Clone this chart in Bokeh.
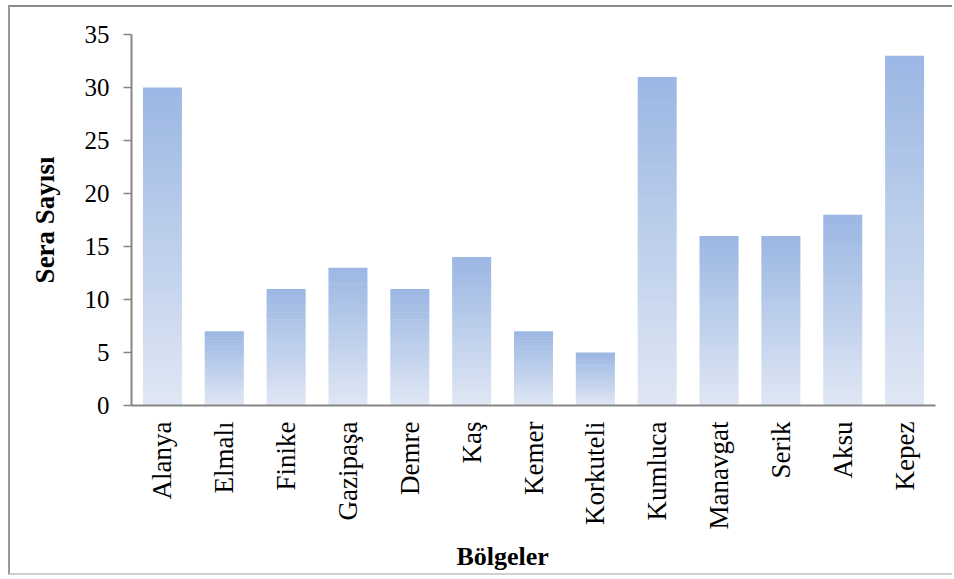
from bokeh.plotting import figure
from bokeh.models import FixedTicker, Range1d, FactorRange, Title
from bokeh.embed import file_html
from bokeh.resources import INLINE
import math

# ---- data ----
regions = ["Alanya", "Elmalı", "Finike", "Gazipaşa", "Demre", "Kaş", "Kemer",
           "Korkuteli", "Kumluca", "Manavgat", "Serik", "Aksu", "Kepez"]
greenhouses = [30, 7, 11, 13, 11, 14, 7, 5, 31, 16, 16, 18, 33]
y_ticks = [0, 5, 10, 15, 20, 25, 30, 35]
x_title = "Bölgeler"
y_title = "Sera Sayısı"

FONT = "Liberation Serif"
TOP_RGB = (155, 183, 227)
BOT_RGB = (224, 231, 244)
N = 50
OVERLAP = 0.06  # small overlap (data units) between slices to hide seams

p = figure(width=944, height=570, x_range=FactorRange(*regions), y_range=Range1d(0, 35),
           output_backend="svg", toolbar_location=None,
           min_border_left=121, min_border_right=19, min_border_top=27, min_border_bottom=172)
p.styles = {"margin-left": "8px", "margin-top": "5px",
            "border-top": "2px solid #8a8a8a", "border-left": "2px solid #9a9a9a",
            "border-bottom": "2px solid #d0d0d0"}

# vertical gradient bars: slices from bottom to top, each slightly overlapping the one below
xs, bottoms, tops, colors = [], [], [], []
for k in range(N):
    t = (k + 0.5) / N
    c = tuple(int(round(BOT_RGB[j] + (TOP_RGB[j] - BOT_RGB[j]) * t)) for j in range(3))
    for r, v in zip(regions, greenhouses):
        xs.append(r)
        bottoms.append(max(0.0, v * k / N - (OVERLAP if k > 0 else 0.0)))
        tops.append(v * (k + 1) / N)
        colors.append("#%02x%02x%02x" % c)

p.vbar(x=xs, bottom=bottoms, top=tops, width=0.63, fill_color=colors, line_color=None)

p.grid.visible = False
p.outline_line_color = None
p.background_fill_color = "white"
p.border_fill_color = "white"

ya = p.yaxis[0]
ya.ticker = FixedTicker(ticks=y_ticks)
ya.axis_line_color = "#868686"
ya.axis_line_width = 2
ya.major_tick_line_color = "#868686"
ya.major_tick_line_width = 1.5
ya.major_tick_out = 8
ya.major_tick_in = 0
ya.minor_tick_line_color = None
ya.major_label_text_font = FONT
ya.major_label_text_font_size = "25px"
ya.major_label_text_color = "black"
ya.major_label_standoff = 14
ya.axis_label = y_title
ya.axis_label_text_font = FONT
ya.axis_label_text_font_style = "bold"
ya.axis_label_text_font_size = "27px"
ya.axis_label_text_color = "black"
ya.axis_label_standoff = 22

xa = p.xaxis[0]
xa.axis_line_color = "#868686"
xa.axis_line_width = 2
xa.major_tick_line_color = None
xa.major_tick_out = 0
xa.major_tick_in = 0
xa.minor_tick_line_color = None
xa.major_label_orientation = math.pi / 2
xa.major_label_text_font = FONT
xa.major_label_text_font_size = "27px"
xa.major_label_text_color = "black"
xa.major_label_standoff = 16

# x-axis title, placed left of the frame centre as in the original
p.add_layout(Title(text=x_title, align="left", offset=325, standoff=14,
                   text_font=FONT, text_font_style="bold", text_font_size="26px",
                   text_color="black"), "below")

open("out.html", "w").write(file_html(p, INLINE))
